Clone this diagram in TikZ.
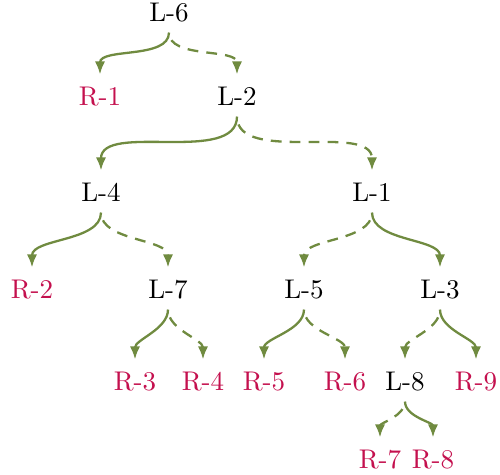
\documentclass[tikz,border=0pt]{standalone}
\usetikzlibrary{arrows.meta}
\definecolor{edgegreen}{RGB}{112,139,64}
\definecolor{leafred}{RGB}{196,16,78}
\begin{document}
\begin{tikzpicture}[x=0.37pt,y=0.37pt,
  tn/.style={anchor=base, inner sep=0pt, text height=11.5pt, text depth=3.7pt},
  inner/.style={tn, text=black},
  leaf/.style={tn, text=leafred},
  edgebase/.style={draw=edgegreen, line width=0.85pt, looseness=0.85, -{Latex[length=4.8pt,width=3.8pt]}},
  solidedge/.style={edgebase},
  dashedge/.style={edgebase, dash pattern=on 4pt off 3pt, dash phase=4pt}]
\useasboundingbox (0,0) rectangle (500,-475);
\node[inner] (L6) at (169,-22) {L-6};
\node[leaf]  (R1) at (100,-106) {R-1};
\node[inner] (L2) at (237,-106) {L-2};
\node[inner] (L4) at (101,-202) {L-4};
\node[inner] (L1) at (372,-202) {L-1};
\node[leaf]  (R2) at (32,-299) {R-2};
\node[inner] (L7) at (168,-299) {L-7};
\node[inner] (L5) at (304,-299) {L-5};
\node[inner] (L3) at (440,-299) {L-3};
\node[leaf]  (R3) at (135,-391) {R-3};
\node[leaf]  (R4) at (203,-391) {R-4};
\node[leaf]  (R5) at (264,-391) {R-5};
\node[leaf]  (R6) at (345,-391) {R-6};
\node[inner] (L8) at (405,-391) {L-8};
\node[leaf]  (R9) at (476,-391) {R-9};
\node[leaf]  (R7) at (380,-469) {R-7};
\node[leaf]  (R8) at (433,-469) {R-8};
\foreach \p/\c in {L6/R1, L2/L4, L4/R2, L1/L3, L7/R3, L5/R5, L3/R9, L8/R8}
  \draw[solidedge] (\p.south) to[out=-90,in=90] (\c.north);
\foreach \p/\c in {L6/L2, L2/L1, L4/L7, L1/L5, L7/R4, L5/R6, L3/L8, L8/R7}
  \draw[dashedge] (\p.south) to[out=-90,in=90] (\c.north);
\end{tikzpicture}
\end{document}
